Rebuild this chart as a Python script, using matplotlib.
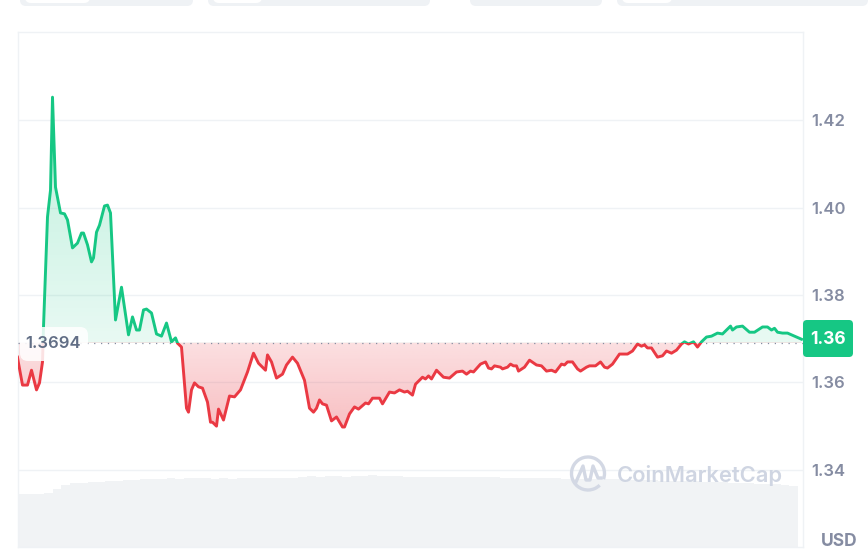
from matplotlib import pyplot as plt
from matplotlib.patches import Arc, FancyBboxPatch, Rectangle
import numpy as np

plt.rcParams["font.family"] = ["Inter", "DejaVu Sans"]

GREEN = "#16c784"
RED = "#ea3943"
GREY = "#858ca2"
PALE = "#eff2f5"

# time steps along the window and the price at each
steps = [0, 1, 5, 10, 14, 19, 22, 25, 26, 30, 33, 35, 38, 43, 47, 50, 55, 60, 64, 66, 70, 74, 76, 79, 82, 87, 90, 93,
         98, 104, 111, 115, 119, 122, 126, 129, 134, 139, 144, 149, 154, 158, 160, 164, 169, 171, 174, 177, 181, 185,
         190, 193, 195, 199, 201, 206, 212, 217, 223, 230, 236, 241, 248, 250, 254, 259, 265, 269, 275, 280, 287, 292,
         296, 299, 302, 305, 309, 314, 319, 325, 327, 332, 337, 341, 348, 351, 355, 362, 365, 372, 377, 382, 387, 390,
         395, 398, 405, 408, 411, 414, 419, 426, 432, 439, 445, 449, 453, 456, 463, 468, 471, 474, 477, 483, 485, 490,
         493, 496, 499, 501, 507, 512, 519, 524, 529, 534, 538, 544, 547, 550, 555, 560, 563, 569, 572, 578, 583, 587,
         590, 595, 602, 610, 615, 620, 624, 627, 630, 634, 640, 645, 649, 654, 659, 664, 667, 671, 676, 680, 684, 689,
         694, 700, 705, 713, 715, 719, 725, 732, 737, 745, 750, 754, 757, 760, 765, 770, 777, 784]
prices = [1.3661, 1.3647, 1.3597, 1.3597, 1.3631, 1.3586, 1.3602, 1.3650, 1.3730, 1.3982, 1.4043, 1.4256, 1.4050,
          1.3991, 1.3989, 1.3975, 1.3911, 1.3922, 1.3945, 1.3945, 1.3918, 1.3879, 1.3888, 1.3947, 1.3963, 1.4007,
          1.4009, 1.3991, 1.3746, 1.3821, 1.3712, 1.3753, 1.3723, 1.3723, 1.3769, 1.3771, 1.3762, 1.3714, 1.3709,
          1.3739, 1.3696, 1.3705, 1.3693, 1.3684, 1.3544, 1.3535, 1.3586, 1.3602, 1.3593, 1.3590, 1.3558, 1.3512,
          1.3512, 1.3503, 1.3542, 1.3517, 1.3572, 1.3570, 1.3586, 1.3627, 1.3670, 1.3647, 1.3631, 1.3666, 1.3650,
          1.3613, 1.3622, 1.3643, 1.3661, 1.3647, 1.3608, 1.3544, 1.3535, 1.3544, 1.3563, 1.3554, 1.3551, 1.3515,
          1.3524, 1.3501, 1.3501, 1.3531, 1.3547, 1.3542, 1.3556, 1.3554, 1.3567, 1.3567, 1.3554, 1.3581, 1.3579,
          1.3586, 1.3581, 1.3583, 1.3574, 1.3599, 1.3615, 1.3611, 1.3618, 1.3611, 1.3631, 1.3615, 1.3613, 1.3627,
          1.3629, 1.3622, 1.3629, 1.3627, 1.3645, 1.3650, 1.3636, 1.3634, 1.3641, 1.3638, 1.3634, 1.3638, 1.3645,
          1.3641, 1.3641, 1.3629, 1.3638, 1.3654, 1.3643, 1.3641, 1.3629, 1.3631, 1.3627, 1.3645, 1.3643, 1.3650,
          1.3650, 1.3634, 1.3629, 1.3638, 1.3641, 1.3641, 1.3650, 1.3638, 1.3636, 1.3645, 1.3668, 1.3668, 1.3675,
          1.3691, 1.3686, 1.3689, 1.3682, 1.3682, 1.3661, 1.3664, 1.3675, 1.3670, 1.3677, 1.3691, 1.3696, 1.3691,
          1.3696, 1.3684, 1.3696, 1.3707, 1.3709, 1.3716, 1.3714, 1.3732, 1.3723, 1.3730, 1.3732, 1.3718, 1.3718,
          1.3730, 1.3730, 1.3723, 1.3727, 1.3718, 1.3716, 1.3716, 1.3709, 1.3702]
base_price = 1.3694

# volume is on its own hidden scale
volume = [53, 53, 53, 54, 58, 62, 64, 64, 65, 65, 66, 66, 67, 67, 68, 68, 68, 69, 68, 69, 69, 69, 68, 69, 68, 69, 69,
          69, 69, 69, 69, 69, 70, 71, 70, 71, 71, 70, 71, 71, 72, 71, 71, 71, 70, 70, 70, 70, 70, 70, 70, 70, 70, 70,
          70, 69, 69, 69, 69, 69, 69, 69, 68, 68, 68, 68, 68, 68, 68, 67, 67, 67, 67, 66, 66, 66, 66, 66, 65, 65, 65,
          64, 64, 64, 63, 63, 63, 62, 61]

tick_values = [1.3403, 1.3603, 1.3803, 1.4003, 1.4203]
tick_labels = ["1.34", "1.36", "1.38", "1.40", "1.42"]
last_label = "1.36"

steps = np.array(steps)
prices = np.array(prices)

fig = plt.figure(figsize=(8.68, 5.59), dpi=100)
W, H = 868, 559
rect = [17.5 / W, (H - 547) / H, (803 - 17.5) / W, (547 - 32) / H]

# volume underneath
ax_vol = fig.add_axes(rect, zorder=1)
vol_x = np.linspace(0, 772, len(volume))
ax_vol.bar(vol_x, volume, width=vol_x[1] - vol_x[0], align="edge", color="#f1f3f5", linewidth=0, antialiased=False)
ax_vol.set_xlim(0, 785.5)
ax_vol.set_ylim(0, 515)
ax_vol.axis("off")

ax = fig.add_axes(rect, zorder=2)
ax.patch.set_alpha(0)
ax.set_xlim(0, 785.5)
y_low = base_price - (547 - 342.7) / 4368.75
y_high = base_price + (342.7 - 32) / 4368.75
ax.set_ylim(y_low, y_high)

ax.yaxis.tick_right()
ax.set_yticks(tick_values)
ax.set_yticklabels(tick_labels, fontsize=12, color=GREY, fontweight="semibold")
ax.tick_params(axis="y", length=0, pad=6)
ax.set_xticks([])
ax.grid(axis="y", color=PALE, linewidth=1)
ax.set_axisbelow(True)
for s in ax.spines.values():
    s.set_color(PALE)
    s.set_linewidth(1)

# gradient areas either side of the open price
area = ax.fill_between(steps, prices, base_price, color="none")
area_path = area.get_paths()[0]
area.remove()


def gradient(color, top_alpha, bottom_alpha, low, high):
    rgba = np.ones((64, 2, 4))
    rgba[:, :, :3] = plt.matplotlib.colors.to_rgb(color)
    rgba[:, :, 3] = np.linspace(top_alpha, bottom_alpha, 64)[:, None]
    im = ax.imshow(rgba, extent=(0, 785.5, low, high), aspect="auto", origin="upper", zorder=2)
    im.set_clip_path(area_path, transform=ax.transData)


gradient(GREEN, 0.28, 0.10, base_price, prices.max())
gradient(RED, 0.16, 0.32, prices.min(), base_price)
ax.set_xlim(0, 785.5)
ax.set_ylim(y_low, y_high)

ax.axhline(base_price, color=GREY, linewidth=0.9, linestyle=(0, (1, 4.5)), zorder=3)

# same line twice, each clipped to its side of the open price
up, = ax.plot(steps, prices, color=GREEN, linewidth=2.1, zorder=4, solid_joinstyle="round")
up.set_clip_path(Rectangle((0, base_price), 785.5, y_high - base_price, transform=ax.transData))
down, = ax.plot(steps, prices, color=RED, linewidth=2.1, zorder=4, solid_joinstyle="round")
down.set_clip_path(Rectangle((0, y_low), 785.5, base_price - y_low, transform=ax.transData))

# page furniture in pixel coordinates
over = fig.add_axes([0, 0, 1, 1], zorder=5)
over.set_xlim(0, W)
over.set_ylim(H, 0)
over.axis("off")


def pill(x0, x1, y0, y1, color, r=6, alpha=1.0):
    over.add_patch(FancyBboxPatch((x0 + r, y0 + r), x1 - x0 - 2 * r, y1 - y0 - 2 * r,
                                  boxstyle=f"round,pad={r},rounding_size={r}",
                                  facecolor=color, edgecolor="none", alpha=alpha, mutation_aspect=1))


for x0, x1, x2 in [(20, 193, 90), (208, 430, 262), (470, 602, None), (617, 868, 672)]:
    pill(x0, x1, -20, 6, PALE)
    if x2:
        pill(x0 + 5, x2, -20, 3, "white")

pill(20, 88, 327, 361, "white", r=8, alpha=0.86)
over.text(53.5, 343.5, "1.3694", ha="center", va="center", fontsize=12, color="#616e85", fontweight="semibold")

pill(803, 853, 320, 357, GREEN, r=4)
over.text(828, 339, last_label, ha="center", va="center", fontsize=12.5, color="white", fontweight="bold")
over.text(821, 541, "USD", ha="left", va="center", fontsize=12.5, color=GREY, fontweight="bold")

# watermark
logo = "#d3d8e4"
over.add_patch(Arc((588, 473.5), 33, 33, theta1=45, theta2=20, color=logo, linewidth=2.4))
over.plot([576, 583, 586, 590, 593, 598, 601], [482, 466, 480, 480, 466, 478, 478], color=logo, linewidth=2.4,
          solid_joinstyle="round")
over.text(617, 476, "CoinMarketCap", ha="left", va="center", fontsize=15.8, color="#cfd5e2", fontweight="semibold")

fig.savefig("out.png", dpi=100)
